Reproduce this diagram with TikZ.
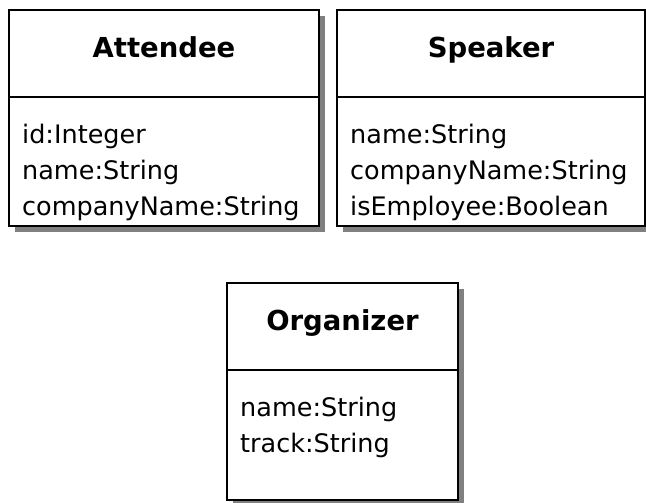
\documentclass[tikz,border=0pt]{standalone}
\usepackage{fontspec}
\setmainfont{DejaVu Sans}
\usetikzlibrary{positioning,fit,backgrounds,shadows}

\begin{document}
\begin{tikzpicture}[x=1pt,y=-1pt,
  classhead/.style={draw,line width=1.8pt,fill=white,inner sep=0pt,outer sep=0pt,minimum height=87pt,text height=20pt,text depth=12pt,font=\fontsize{27.5}{30}\selectfont\bfseries},
  classbody/.style={draw,line width=1.8pt,fill=white,inner sep=0pt,outer sep=0pt,minimum height=129pt},
  attrtext/.style={inner sep=0pt,align=left,font=\fontsize{25.5}{36}\selectfont},
  classshadow/.style={fill=white,inner sep=0pt,drop shadow={shadow xshift=6pt,shadow yshift=-6pt,fill=black!50,opacity=1}},
 ]
\useasboundingbox (0,0) rectangle (646,503);

\node[classhead, minimum width=310pt, anchor=north west] (AttHead) at (9,10) {Attendee};
\node[classbody, minimum width=310pt, below=0pt of AttHead] (AttBody) {};
\node[attrtext, below right=27pt and 13pt of AttBody.north west] (AttAttr) {id:Integer\\name:String\\companyName:String};

\node[classhead, minimum width=308pt, right=18pt of AttHead] (SpkHead) {Speaker};
\node[classbody, minimum width=308pt, below=0pt of SpkHead] (SpkBody) {};
\node[attrtext, below right=27pt and 13pt of SpkBody.north west] (SpkAttr) {name:String\\companyName:String\\isEmployee:Boolean};

\node[classhead, minimum width=231pt, anchor=north west] (OrgHead) at (227,283) {Organizer};
\node[classbody, minimum width=231pt, minimum height=130pt, below=0pt of OrgHead] (OrgBody) {};
\node[attrtext, below right=27pt and 13pt of OrgBody.north west] (OrgAttr) {name:String\\track:String};

% shadows behind the boxes
\begin{scope}[on background layer]
\node[classshadow, fit=(AttHead)(AttBody)] {};
\node[classshadow, fit=(SpkHead)(SpkBody)] {};
\node[classshadow, fit=(OrgHead)(OrgBody)] {};
\end{scope}

\end{tikzpicture}
\end{document}
